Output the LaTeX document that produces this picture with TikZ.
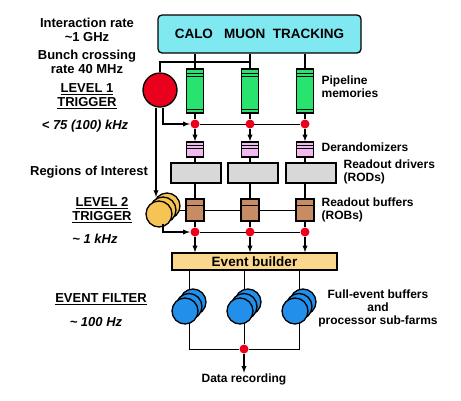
\documentclass[tikz,border=0pt]{standalone}
\usepackage{fontspec}
\setmainfont{Liberation Sans}
\usepackage{tikz}
\usetikzlibrary{arrows,backgrounds,positioning}

\definecolor{detcyan}{RGB}{128,232,240}
\definecolor{pipegreen}{RGB}{40,228,110}
\definecolor{derpink}{RGB}{240,185,240}
\definecolor{rodgray}{RGB}{216,216,216}
\definecolor{robbrown}{RGB}{200,140,100}
\definecolor{ebtan}{RGB}{250,215,140}
\definecolor{trigred}{RGB}{232,0,28}
\definecolor{ltwoyellow}{RGB}{246,196,84}
\definecolor{efblue}{RGB}{34,144,234}

\begin{document}
\begin{tikzpicture}
  [x=1pt,y=-1pt,line width=1.3pt,
   det/.style={rectangle,rounded corners=4pt,draw,fill=detcyan,minimum width=203pt,minimum height=38pt,font=\bfseries\fontsize{13.5}{15}\selectfont},
   pipe/.style={rectangle,draw,fill=pipegreen,minimum width=17pt,minimum height=44pt,inner sep=0pt,
     path picture={\draw[line width=0.9pt] ([yshift=-4pt]path picture bounding box.north west) -- ([yshift=-4pt]path picture bounding box.north east)
       ([yshift=-7.5pt]path picture bounding box.north west) -- ([yshift=-7.5pt]path picture bounding box.north east)
       ([yshift=4pt]path picture bounding box.south west) -- ([yshift=4pt]path picture bounding box.south east);}},
   derand/.style={rectangle,draw,fill=derpink,minimum width=17pt,minimum height=15pt,inner sep=0pt,
     path picture={\draw[line width=0.8pt] ([yshift=-3.5pt]path picture bounding box.north west) -- ([yshift=-3.5pt]path picture bounding box.north east)
       ([yshift=-6.5pt]path picture bounding box.north west) -- ([yshift=-6.5pt]path picture bounding box.north east);}},
   rod/.style={rectangle,draw,fill=rodgray,minimum width=50pt,minimum height=20pt,inner sep=0pt},
   rob/.style={rectangle,draw,fill=robbrown,minimum width=18pt,minimum height=22pt,inner sep=0pt,
     path picture={\draw[line width=0.9pt] ([yshift=-6pt]path picture bounding box.north west) -- ([yshift=-6pt]path picture bounding box.north east);}},
   dot/.style={circle,fill=trigred,minimum size=9pt,inner sep=0pt},
   trig/.style={circle,draw,fill=trigred,minimum size=34pt,inner sep=0pt},
   ltwo/.style={circle,draw,fill=ltwoyellow,minimum size=26pt,inner sep=0pt},
   farm/.style={circle,draw,fill=efblue,minimum size=26pt,inner sep=0pt},
   builder/.style={rectangle,draw,fill=ebtan,minimum width=165pt,minimum height=17pt,inner sep=0pt,font=\bfseries\fontsize{13.5}{15}\selectfont},
   lefttext/.style={align=center,inner sep=0pt,font=\bfseries\fontsize{13}{14}\selectfont},
   righttext/.style={align=left,anchor=west,inner sep=0pt,font=\bfseries\fontsize{12}{13}\selectfont}]
  \useasboundingbox (0,0) rectangle (461,400);
  % detectors and level 1
  \node[det] (det) at (259.5,34) {CALO~~~MUON~~TRACKING};
  \node[pipe] (pm1) at (195,91) {};
  \node[pipe] (pm2) at (250,91) {};
  \node[pipe] (pm3) at (305,91) {};
  \node[trig] (trig1) at (160,90) {};
  \coordinate (l1bus) at (250,62);
  \node[dot] (d1a) at (195,124) {};
  \node[dot] (d1b) at (250,124) {};
  \node[dot] (d1c) at (305,124) {};
  \node[derand] (dr1) at (195,149.5) {};
  \node[derand] (dr2) at (250,149.5) {};
  \node[derand] (dr3) at (305,149.5) {};
  \node[rod] (rod1) at (196,173) {};
  \node[rod] (rod2) at (253,173) {};
  \node[rod] (rod3) at (311,173) {};
  % level 2
  \node[rob] (rob1) at (195,210) {};
  \node[rob] (rob2) at (250,210) {};
  \node[rob] (rob3) at (305,210) {};
  \node[ltwo] (l2back) at (167,206) {};
  \node[ltwo] (l2mid) at (163,210) {};
  \node[ltwo] (l2front) at (159,214) {};
  \coordinate (l2in) at (156,197);
  \node[dot] (d2a) at (195,232) {};
  \node[dot] (d2b) at (250,232) {};
  \node[dot] (d2c) at (305,232) {};
  \node[builder] (eb) at (254.5,261.5) {Event builder};
  % event filter
  \node[farm] (ef1back) at (193,302) {};
  \node[farm] (ef1mid) at (189,306.5) {};
  \node[farm] (ef1front) at (185,311) {};
  \node[farm] (ef2back) at (248,302) {};
  \node[farm] (ef2mid) at (244,306.5) {};
  \node[farm] (ef2front) at (240,311) {};
  \node[farm] (ef3back) at (303,302) {};
  \node[farm] (ef3mid) at (299,306.5) {};
  \node[farm] (ef3front) at (295,311) {};
  \node[dot] (dout) at (244,349) {};
  \node[righttext,anchor=center] (rec) at (244,379) {Data recording};
  % labels
  \node[lefttext] (irate) at (87,30) {Interaction rate\\\textasciitilde1 GHz};
  \node[lefttext] (bcross) at (87,61.5) {Bunch crossing\\rate 40 MHz};
  \node[lefttext] (lvl1) at (87,96) {\underline{LEVEL 1}\\\underline{TRIGGER}};
  \node[lefttext] (rate1) at (85,126) {\itshape < 75 (100) kHz};
  \node[lefttext] (roi) at (89,172) {Regions of Interest};
  \node[lefttext] (lvl2) at (102,210) {\underline{LEVEL 2}\\\underline{TRIGGER}};
  \node[lefttext] (rate2) at (95,239) {\itshape \textasciitilde{} 1 kHz};
  \node[lefttext] (lvl3) at (101,299) {\underline{EVENT FILTER}};
  \node[lefttext] (rate3) at (96,322) {\itshape \textasciitilde{} 100 Hz};
  \node[righttext] (pmtext) at (321,87) {Pipeline\\memories};
  \node[righttext] (drtext) at (321,147) {Derandomizers};
  \node[righttext] (rodtext) at (343,172) {Readout drivers\\(RODs)};
  \node[righttext] (robtext) at (321,210) {Readout buffers\\(ROBs)};
  \node[righttext,align=center,anchor=center] (eftext) at (378,308) {Full-event buffers\\and\\processor sub-farms};
  % connections
  \begin{scope}[on background layer]
    \draw (d1a) -- (d1c);
    \draw (d2a) -- (d2c);
    \draw (l2mid.east) -- (rob3.west);
    \draw (eb.south -| ef1mid) -- (ef1mid);
    \draw (eb.south -| ef2mid) -- (ef2mid);
    \draw (eb.south -| ef3mid) -- (ef3mid);
    \draw (ef1mid) |- (dout) -| (ef3mid);
    \draw (ef2mid) -- (dout);
  \end{scope}
  \draw (det.south -| pm1.north) -- (pm1.north);
  \draw (det.south -| pm2.north) -- (pm2.north);
  \draw (det.south -| pm3.north) -- (pm3.north);
  \draw (trig1.north) |- (l1bus);
  \draw (pm1.south) -- (d1a);
  \draw (pm2.south) -- (d1b);
  \draw (pm3.south) -- (d1c);
  \draw [-latex] ([xshift=3pt]trig1.south) |- (d1a.west);
  \draw [-latex] ([xshift=-4pt]trig1.south) -- (l2in);
  \draw [-latex] (d1a.south) -- (dr1.north);
  \draw [-latex] (d1b.south) -- (dr2.north);
  \draw [-latex] (d1c.south) -- (dr3.north);
  \draw (dr1.south) -- (dr1.south |- rod1.north);
  \draw (dr2.south) -- (dr2.south |- rod2.north);
  \draw (dr3.south) -- (dr3.south |- rod3.north);
  \draw (rob1.north |- rod1.south) -- (rob1.north);
  \draw (rob2.north |- rod2.south) -- (rob2.north);
  \draw (rob3.north |- rod3.south) -- (rob3.north);
  \draw (rob1.south) -- (d2a);
  \draw (rob2.south) -- (d2b);
  \draw (rob3.south) -- (d2c);
  \draw [-latex] (l2mid.south) |- (d2a.west);
  \draw [-latex] (d2a.south) -- (d2a.south |- eb.north);
  \draw [-latex] (d2b.south) -- (d2b.south |- eb.north);
  \draw [-latex] (d2c.south) -- (d2c.south |- eb.north);
  \draw [-latex] (dout.south) -- (rec.north);
\end{tikzpicture}
\end{document}
